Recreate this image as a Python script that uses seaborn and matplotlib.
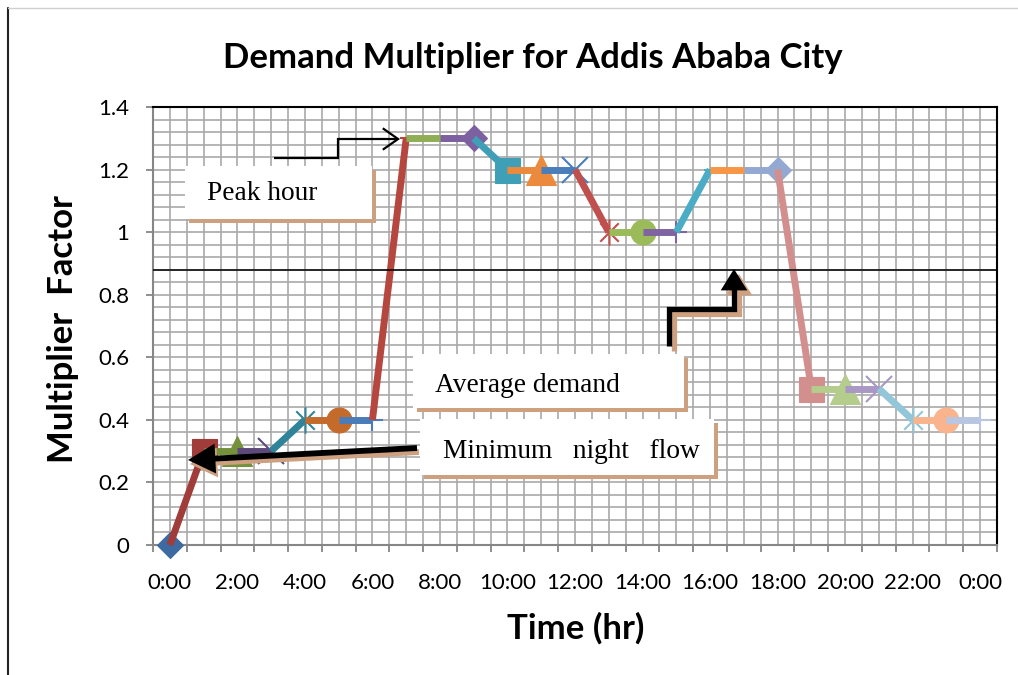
import numpy as np
import pandas as pd
import matplotlib
matplotlib.use("Agg")
import matplotlib.pyplot as plt
from matplotlib.path import Path
from matplotlib.patches import Rectangle, FancyArrowPatch
from matplotlib.lines import Line2D
from matplotlib.ticker import MultipleLocator
import seaborn as sns

# ---- data ---------------------------------------------------------------
hours = list(range(25))
multiplier = [0.0, 0.3, 0.3, 0.3, 0.4, 0.4, 0.4, 1.3, 1.3, 1.3, 1.2, 1.2, 1.2,
              1.0, 1.0, 1.0, 1.2, 1.2, 1.2, 0.5, 0.5, 0.5, 0.4, 0.4, 0.4]
series_colors = [
    "#3D6AA0", "#A03D3A", "#76913C", "#5E4A7A", "#2F8499", "#C46B2B",
    "#4A7CBA", "#B5473F", "#8FAE55", "#7D60A0", "#3F9FB7", "#EB8A3C",
    "#4A7EBB", "#C0504D", "#9BBB59", "#8064A2", "#4BACC6", "#F79646",
    "#93A9D2", "#D38F8E", "#B4CC8C", "#A898C3", "#93C6D9", "#FAB48D",
    "#B9C6E1",
]
tick_hours = list(range(0, 25, 2))
tick_labels = ["0:00", "2:00", "4:00", "6:00", "8:00", "10:00", "12:00",
               "14:00", "16:00", "18:00", "20:00", "22:00", "0:00"]
y_ticks = [0, 0.2, 0.4, 0.6, 0.8, 1.0, 1.2, 1.4]
y_tick_labels = ["0", "0.2", "0.4", "0.6", "0.8", "1", "1.2", "1.4"]
average_level = 0.88

title = "Demand Multiplier for Addis Ababa City"
x_title = "Time (hr)"
y_title = "Multiplier  Factor"

# ---- style --------------------------------------------------------------
sns.set_theme(style="white")
plt.rcParams["font.family"] = ["Lato", "DejaVu Sans"]
plt.rcParams["text.color"] = "black"

W, H = 1018, 675
fig = plt.figure(figsize=(W / 100, H / 100), dpi=100)
ax = fig.add_axes([153 / W, 1 - 545 / H, (997 - 153) / W, (545 - 107) / H])


def fx(x, y):
    """pixel position (from top-left) -> figure fraction"""
    return (x / W, 1 - y / H)


# asterisk marker: an X with a vertical bar through it
star = Path([(-0.7, -0.7), (0.7, 0.7), (-0.7, 0.7), (0.7, -0.7), (0, -1), (0, 1)],
            [Path.MOVETO, Path.LINETO, Path.MOVETO, Path.LINETO, Path.MOVETO, Path.LINETO])
marker_cycle = ["D", "s", "^", "x", star, "o", "+", "_", "."]
marker_sizes = {"D": 13, "s": 18, "^": 21, "x": 19, "o": 18, "+": 16, "_": 9, ".": 5}

# each hour is its own series: the segment leading into it plus its marker
for i, (h, v) in enumerate(zip(hours, multiplier)):
    c = series_colors[i]
    m = marker_cycle[i % len(marker_cycle)]
    ms = marker_sizes.get(m, 19) if isinstance(m, str) else 19
    unfilled = (m is star) or m in ("x", "+", "_")
    if i == 0:
        xs, ys, every = [h], [v], [0]
    else:
        xs, ys, every = [hours[i - 1], h], [multiplier[i - 1], v], [1]
    sns.lineplot(x=xs, y=ys, ax=ax, color=c, linewidth=5, marker=m,
                 markersize=ms, markevery=every,
                 markerfacecolor=c if not unfilled else "none",
                 markeredgecolor=c, markeredgewidth=1.5 if unfilled else 0.8,
                 solid_capstyle="butt", legend=False, clip_on=False,
                 zorder=3 + i * 0.01)

# ---- axes ---------------------------------------------------------------
ax.set_xlim(-0.5, 24.5)
ax.set_ylim(0, 1.4)
ax.set_xticks(np.arange(-0.5, 25, 1.0))
ax.set_xticklabels([])
ax.set_xticks(hours, minor=True)
ax.set_xticklabels([tick_labels[tick_hours.index(h)] if h in tick_hours else "" for h in hours],
                   minor=True)
ax.set_yticks(y_ticks)
ax.set_yticklabels(y_tick_labels)
ax.yaxis.set_minor_locator(MultipleLocator(0.04))

ax.tick_params(axis="x", which="major", direction="out", length=5, width=1.3,
               color="#868686", bottom=True)
ax.tick_params(axis="x", which="minor", length=0, pad=20, labelsize=16,
               labelcolor="black")
ax.tick_params(axis="y", which="major", direction="out", length=5, width=1.3,
               color="#868686", left=True, pad=12, labelsize=16, labelcolor="black")
ax.tick_params(axis="y", which="minor", length=0)

ax.grid(True, which="both", color="#A9A9A9", linewidth=1.2, zorder=0)
ax.set_axisbelow(True)
for side in ("left", "bottom"):
    ax.spines[side].set_color("#868686")
    ax.spines[side].set_linewidth(1.5)
for side in ("top", "right"):
    ax.spines[side].set_color("black")
    ax.spines[side].set_linewidth(1.5)
ax.set_xlabel("")
ax.set_ylabel("")

# average demand level
ax.axhline(average_level, color="black", linewidth=1.1, zorder=10)

# ---- titles -------------------------------------------------------------
fig.text(*fx(533, 58), title, ha="center", va="center", fontsize=25,
         fontweight="bold", color="black")
fig.text(*fx(576, 628), x_title, ha="center", va="center", fontsize=25,
         fontweight="bold", color="black")
fig.text(*fx(63, 329), y_title, ha="center", va="center", rotation=90,
         fontsize=25, fontweight="bold", color="black")

# ---- callouts -----------------------------------------------------------
shadow = "#CDA080"
ftr = fig.transFigure


def callout(x0, y0, x1, y1, text, tx, ty, size=19.7):
    sx, sy = fx(x0 + 4, y1 + 4)
    w, h = (x1 - x0) / W, (y1 - y0) / H
    fig.add_artist(Rectangle((sx, sy), w, h, transform=ftr, facecolor=shadow,
                             edgecolor="none", zorder=20))
    bx, by = fx(x0, y1)
    fig.add_artist(Rectangle((bx, by), w, h, transform=ftr, facecolor="white",
                             edgecolor="none", zorder=21))
    fig.text(*fx(tx, ty), text, ha="left", va="center", fontsize=size,
             family="Liberation Serif", color="black", zorder=22)


callout(185, 166, 372, 219, "Peak hour", 207, 194)
callout(413, 354, 684, 408, "Average demand", 435, 385)
callout(420, 419, 714, 475, "Minimum   night   flow", 443, 451)


def elbow(points, color, lw, style, scale, z, offset=(0, 0)):
    verts = [fx(x + offset[0], y + offset[1]) for x, y in points]
    codes = [Path.MOVETO] + [Path.LINETO] * (len(verts) - 1)
    arr = FancyArrowPatch(path=Path(verts, codes), arrowstyle=style, mutation_scale=scale,
                          color=color, linewidth=lw, transform=ftr, zorder=z,
                          joinstyle="miter", capstyle="butt")
    fig.add_artist(arr)


# peak hour pointer
elbow([(274, 158), (338, 158), (338, 139), (400, 139)], "black", 1.6,
      "->,head_length=0.5,head_width=0.35", 22, 24)
# average demand pointer (with shadow)
avg_pts = [(669, 346), (669, 309), (734, 309), (734, 269)]
elbow(avg_pts, shadow, 3.8, "-|>,head_length=0.45,head_width=0.28", 22, 23, offset=(5, 5))
elbow(avg_pts, "black", 3.8, "-|>,head_length=0.45,head_width=0.28", 22, 24)
# minimum night flow pointer (with shadow)
min_pts = [(417, 448), (188, 460)]
elbow(min_pts, shadow, 4.2, "-|>,head_length=0.55,head_width=0.3", 24, 23, offset=(2, 4))
elbow(min_pts, "black", 4.2, "-|>,head_length=0.55,head_width=0.3", 24, 24)

# chart frame remnants along the left and top
fig.add_artist(Line2D([7.5 / W, 7.5 / W], [0, 1 - 8 / H], transform=ftr, color="#222222", lw=1.5))
fig.add_artist(Line2D([8 / W, 1], [1 - 8 / H, 1 - 8 / H], transform=ftr, color="#CFCFCF", lw=1))

fig.savefig("out.png", dpi=100, facecolor="white")
